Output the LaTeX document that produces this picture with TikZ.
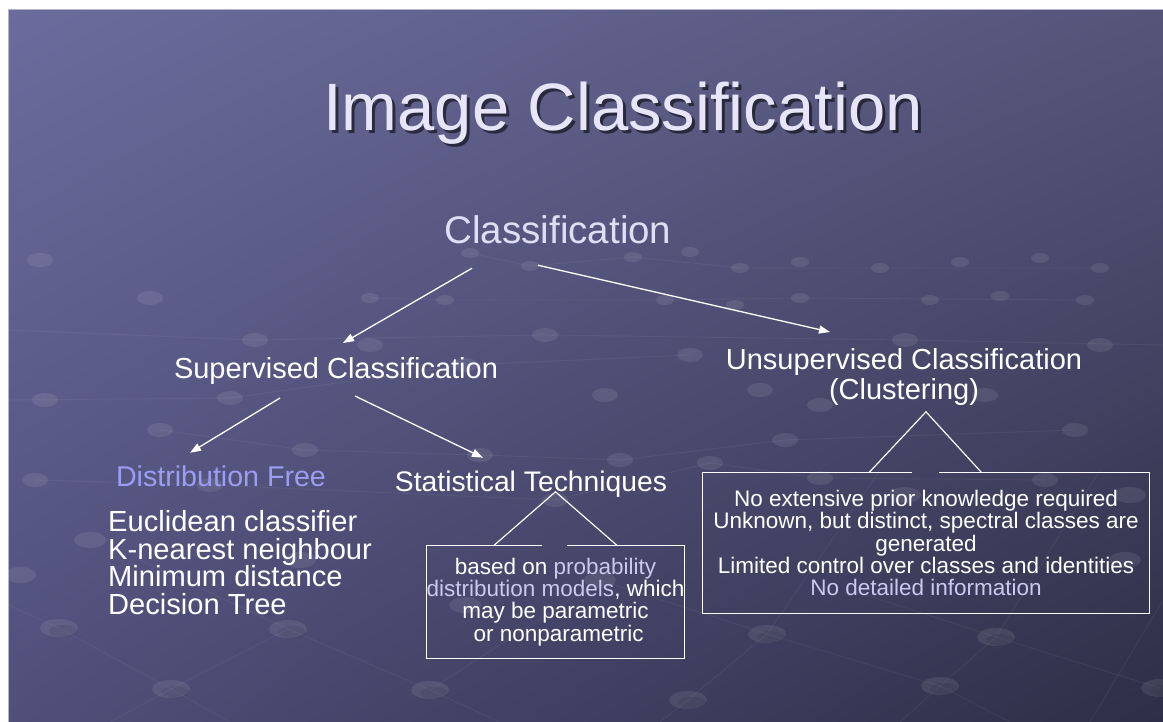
\documentclass[tikz,border=0pt]{standalone}
\usepackage{fontspec}
\setmainfont{Liberation Sans}
\usetikzlibrary{calc,arrows.meta,shadings}
\definecolor{bgTL}{HTML}{6B6C9D}
\definecolor{bgTR}{HTML}{55557A}
\definecolor{bgBL}{HTML}{4F4F7A}
\definecolor{bgBR}{HTML}{2E2E47}
\definecolor{titlec}{HTML}{E6E6F8}
\definecolor{clsc}{HTML}{DEDEF4}
\definecolor{lavc}{HTML}{CACAF0}
\definecolor{dfc}{HTML}{9C9CF2}
\definecolor{edgec}{HTML}{B4B4C8}
\tikzset{
  lbl/.style={inner sep=0pt, text=white, font=\fontsize{29}{30}\selectfont},
  arr/.style={draw=white, line width=1.3pt, -{Triangle[length=11pt,width=8pt]}},
  callout/.style={draw=white!92!lavc, line width=1.2pt},
  boxtxt/.style={inner sep=0pt, text=white, align=center, font=\fontsize{22.5}{22.3}\selectfont},
  dot/.style={fill=white, fill opacity=0.085},
  dotshadow/.style={fill=black, fill opacity=0.07},
  gridline/.style={draw=white, draw opacity=0.05, line width=0.9pt}
}
\begin{document}
\begin{tikzpicture}[x=1pt,y=-1pt]
\useasboundingbox (0,0) rectangle (1163,722);
\fill[white] (0,0) rectangle (1163,722);
\begin{scope}[y=1pt]
\shade[upper left=bgTL, upper right=bgTR, lower left=bgBL, lower right=bgBR] (8,-722) rectangle (1163,-10);
\end{scope}
\draw[edgec, line width=1pt] (8,722) -- (8,10) -- (1163,10);
% background texture: faint lattice lines
\draw[gridline] (8,605) -- (59,628) -- (171,689) -- (230,722);
\draw[gridline] (288,629) -- (171,689) -- (110,722);
\draw[gridline] (140,560) -- (288,629) -- (430,690) -- (500,722);
\draw[gridline] (430,690) -- (600,580) -- (767,634) -- (940,686) -- (1010,722);
\draw[gridline] (880,470) -- (767,634) -- (688,700) -- (660,722);
\draw[gridline] (1100,470) -- (996,637) -- (940,686) -- (900,722);
\draw[gridline] (850,590) -- (996,637) -- (1160,688);
\draw[gridline] (1163,600) -- (1090,722);
\draw[gridline] (8,330) -- (255,340) -- (545,335) -- (905,340) -- (1163,345);
\draw[gridline] (8,400) -- (230,398) -- (465,365) -- (690,355);
\draw[gridline] (160,430) -- (305,450) -- (480,455) -- (620,460) -- (785,440) -- (1075,430);
\draw[gridline] (35,480) -- (210,485) -- (555,500) -- (710,463) -- (820,478) -- (1045,480);
\draw[gridline] (370,298) -- (445,300) -- (665,300) -- (800,298) -- (1085,300);
\draw[gridline] (470,253) -- (530,266) -- (633,257) -- (740,268) -- (880,268) -- (1100,268);
% dots
\foreach \x/\y in {470/253,530/266,633/257,690/252,740/268,800/262,880/268,960/262,1040/258,1100/268,
                   370/298,445/300,665/300,735/305,800/298,930/300,1000/296,1085/300}
  \fill[dot] (\x,\y) ellipse [x radius=9, y radius=5];
\foreach \x/\y in {40/260,150/298,255/340,370/345,545/335,690/355,905/340,1100/345,
                   45/400,230/398,465/365,605/395,760/390,820/405,985/395,
                   160/430,305/450,480/455,620/460,785/440,1075/430,
                   35/480,210/485,555/500,710/463,820/478,1045/480}
  \fill[dot] (\x,\y) ellipse [x radius=13, y radius=7];
\foreach \x/\y in {90/540,300/560,600/580,905/495,1130/495,20/575,465/605,1125/560}
  \fill[dot] (\x,\y) ellipse [x radius=16, y radius=8];
\foreach \x/\y in {59/628,288/629,767/634,996/637,171/689,430/690,688/700,940/686,1160/688}
  {\fill[dot] (\x,\y) ellipse [x radius=19, y radius=9];
   \fill[dotshadow] ([xshift=4pt,yshift=-3pt]\x,\y) ellipse [x radius=14, y radius=6];}
% title
\node[inner sep=0pt, anchor=base, text=black!80!bgBR, opacity=0.6, font=\fontsize{67}{70}\selectfont] at (626,134) {Image Classification};
\node (title) [inner sep=0pt, anchor=base, text=titlec, font=\fontsize{67}{70}\selectfont] at (623,131) {Image Classification};
% labels
\node (cls) [inner sep=0pt, anchor=base, text=clsc, font=\fontsize{38.5}{40}\selectfont] at (558,244) {Classification};
\node (sup) [lbl, anchor=base] at (336,378.5) {Supervised Classification};
\node (uns) [lbl, align=center] at (904,377) {Unsupervised Classification\\(Clustering)};
\node (df) [lbl, anchor=base, text=dfc, font=\fontsize{28.6}{30}\selectfont] at (221,486) {Distribution Free};
\node (st) [lbl, anchor=base, font=\fontsize{28.3}{30}\selectfont] at (531,491) {Statistical Techniques};
\node (lst) [lbl, anchor=west, align=left, font=\fontsize{29.1}{27.7}\selectfont] at (108,562.5)
  {Euclidean classifier\\K-nearest neighbour\\Minimum distance\\Decision Tree};
% arrows
\draw[arr] ($(cls)+(-86,38)$) -- ($(sup)+(7,-28)$);
\draw[arr] ($(cls)+(-20,35)$) -- ($(uns)+(-74,-45)$);
\draw[arr] ($(sup)+(-56,27)$) -- ($(df)+(-31,-23)$);
\draw[arr] ($(sup)+(19,25)$) -- ($(st)+(-48,-26)$);
% statistical callout box
\node (sbox) [boxtxt, minimum width=257pt, minimum height=112pt] at (555.5,602)
  {based on \textcolor{lavc}{probability}\\\textcolor{lavc}{distribution models}, which\\may be parametric\\\ or nonparametric};
\draw[callout] ($(sbox.north west)+(116,0)$) -- (sbox.north west) -- (sbox.south west) -- (sbox.south east) -- (sbox.north east) -- ($(sbox.north west)+(141,0)$);
\draw[callout] ($(sbox.north west)+(67,0)$) -- ($(sbox.north)+(0,-54)$) -- ($(sbox.north west)+(191,0)$);
% unsupervised callout box
\node (ubox) [boxtxt, minimum width=446pt, minimum height=140pt] at (926,543)
  {No extensive prior knowledge required\\Unknown, but distinct, spectral classes are\\generated\\Limited control over classes and identities\\\textcolor{lavc}{No detailed information}};
\draw[callout] ($(ubox.north west)+(209,0)$) -- (ubox.north west) -- (ubox.south west) -- (ubox.south east) -- (ubox.north east) -- ($(ubox.north west)+(236,0)$);
\draw[callout] ($(ubox.north west)+(166,0)$) -- ($(ubox.north)+(0,-61)$) -- ($(ubox.north west)+(279,0)$);
\end{tikzpicture}
\end{document}
